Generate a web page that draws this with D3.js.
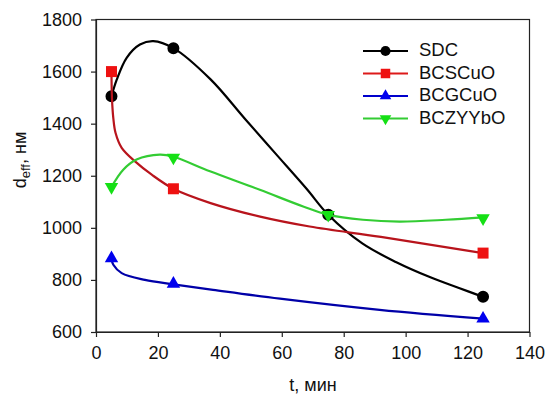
<!DOCTYPE html>
<html>
<head>
<meta charset="utf-8">
<script src="https://cdn.jsdelivr.net/npm/d3@7"></script>
<style>
  body { margin: 0; background: #fff; }
  svg { display: block; font-family: "Liberation Sans", Arial, sans-serif; }
</style>
</head>
<body>
<svg id="chart" width="547" height="394"></svg>
<script>
// tick values
const xTicks = [0, 20, 40, 60, 80, 100, 120, 140]
const yTicks = [600, 800, 1000, 1200, 1400, 1600, 1800]

// series names
const seriesNames = ['SDC', 'BCSCuO', 'BCGCuO', 'BCZYYbO']

// measured points (markers)
const sdcX = [5, 25, 75, 125]
const sdcY = [1505, 1690, 1050, 735]
const bcscuoX = [5, 25, 125]
const bcscuoY = [1600, 1150, 903]
const bcgcuoX = [5, 25, 125]
const bcgcuoY = [883, 785, 651]
const bczyyboX = [5, 25, 75, 125]
const bczyyboY = [1157, 1270, 1050, 1037]

// drawn curves at several t
const sdcLineX = [5, 6.7, 9.9, 14.2, 18.5, 25, 37, 48, 58, 68, 75, 86, 97, 108, 117, 125]
const sdcLineY = [1505, 1569, 1653, 1704, 1717, 1690, 1570, 1420, 1285, 1150, 1050, 940, 868, 810, 770, 735]
const bcscuoLineX = [5, 5.15, 5.6, 6.3, 8.3, 12.6, 18, 25, 37, 53, 69, 92, 125]
const bcscuoLineY = [1600, 1500, 1420, 1365, 1307, 1255, 1204, 1150, 1095, 1043, 1005, 965, 903]
const bcgcuoLineX = [5, 5.6, 8.3, 15.8, 25, 37.8, 59.4, 91.6, 125]
const bcgcuoLineY = [883, 858, 826, 800, 783, 762, 728, 685, 651]
const bczyyboLineX = [5, 8.8, 13.1, 20.6, 25, 36.8, 52.9, 66.9, 75, 86.2, 98, 113, 125]
const bczyyboLineY = [1157, 1223, 1262, 1281, 1273, 1217, 1146, 1082, 1050, 1031, 1024, 1031, 1040]

const zip = (xs, ys) => xs.map((x, i) => [x, ys[i]])

const series = [
  { name: seriesNames[0], pts: zip(sdcX, sdcY), line: zip(sdcLineX, sdcLineY),
    lineColor: '#000000', legendColor: '#000000', markColor: '#000000',
    symbol: d3.symbolCircle, size: 113, legendSize: 80, rot: 0 },
  { name: seriesNames[1], pts: zip(bcscuoX, bcscuoY), line: zip(bcscuoLineX, bcscuoLineY),
    lineColor: '#b8141c', legendColor: '#dd1a1a', markColor: '#ee1111',
    symbol: d3.symbolSquare, size: 121, legendSize: 90, rot: 0 },
  { name: seriesNames[2], pts: zip(bcgcuoX, bcgcuoY), line: zip(bcgcuoLineX, bcgcuoLineY),
    lineColor: '#0000a8', legendColor: '#0000cc', markColor: '#0000ee',
    symbol: d3.symbolTriangle, size: 78, legendSize: 58, rot: 0 },
  { name: seriesNames[3], pts: zip(bczyyboX, bczyyboY), line: zip(bczyyboLineX, bczyyboLineY),
    lineColor: '#33cc33', legendColor: '#33cc33', markColor: '#15e015',
    symbol: d3.symbolTriangle, size: 78, legendSize: 58, rot: 180 }
]

const svg = d3.select('#chart')
const pad = { left: 96, right: 529.5, top: 19.5, bottom: 332 }

const xScale = d3.scaleLinear().domain([0, 140]).range([pad.left, pad.right])
const yScale = d3.scaleLinear().domain([600, 1800]).range([pad.bottom, pad.top])

// frame
svg.append('rect')
  .attr('x', pad.left).attr('y', pad.top)
  .attr('width', pad.right - pad.left).attr('height', pad.bottom - pad.top)
  .attr('fill', 'none').attr('stroke', '#222').attr('stroke-width', 1.2)

const xAxis = svg.append('g')
  .attr('transform', 'translate(0,' + pad.bottom + ')')
  .call(d3.axisBottom(xScale).tickValues(xTicks).tickFormat(d3.format('d'))
    .tickSize(5).tickSizeOuter(0).tickPadding(9))
const yAxis = svg.append('g')
  .attr('transform', 'translate(' + pad.left + ',0)')
  .call(d3.axisLeft(yScale).tickValues(yTicks).tickFormat(d3.format('d'))
    .tickSize(5).tickSizeOuter(0).tickPadding(9))

;[xAxis, yAxis].forEach(function(ax) {
  ax.select('.domain').attr('stroke', '#222').attr('stroke-width', 1.2)
  ax.selectAll('.tick line').attr('stroke', '#222').attr('stroke-width', 1.2)
  ax.selectAll('.tick text')
    .attr('fill', '#111')
    .style('font-size', '18px')
    .style('font-family', '"Liberation Sans", Arial, sans-serif')
})

// axis titles
svg.append('text')
  .attr('x', 313).attr('y', 391)
  .attr('text-anchor', 'middle')
  .attr('fill', '#111')
  .style('font-size', '18px')
  .text('t, мин')

const yTitle = svg.append('text')
  .attr('transform', 'translate(26,160) rotate(-90)')
  .attr('text-anchor', 'middle')
  .attr('fill', '#111')
  .style('font-size', '18px')
yTitle.append('tspan').text('d')
yTitle.append('tspan').attr('dy', 4).style('font-size', '13px').text('eff')
yTitle.append('tspan').attr('dy', -4).text(', нм')

const line = d3.line()
  .x(function(d) { return xScale(d[0]) })
  .y(function(d) { return yScale(d[1]) })
  .curve(d3.curveCatmullRom.alpha(0.5))

series.forEach(function(s) {
  svg.append('path')
    .attr('d', line(s.line))
    .attr('fill', 'none')
    .attr('stroke', s.lineColor)
    .attr('stroke-width', 2.2)

  svg.selectAll()
    .data(s.pts)
    .enter()
    .append('path')
    .attr('d', d3.symbol().type(s.symbol).size(s.size))
    .attr('transform', function(d) {
      return 'translate(' + xScale(d[0]) + ',' + yScale(d[1]) + ') rotate(' + s.rot + ')'
    })
    .attr('fill', s.markColor)
})

// legend
const legend = svg.append('g')
series.forEach(function(s, i) {
  const y = 51 + i * 22.5
  legend.append('line')
    .attr('x1', 363).attr('x2', 408)
    .attr('y1', y).attr('y2', y)
    .attr('stroke', s.legendColor)
    .attr('stroke-width', 2.2)
  legend.append('path')
    .attr('d', d3.symbol().type(s.symbol).size(s.legendSize))
    .attr('transform', 'translate(385.5,' + y + ') rotate(' + s.rot + ')')
    .attr('fill', s.markColor)
  legend.append('text')
    .attr('x', 419).attr('y', y - 1)
    .attr('dy', '0.35em')
    .attr('fill', '#111')
    .style('font-size', '18.5px')
    .text(s.name)
})
</script>
</body>
</html>
